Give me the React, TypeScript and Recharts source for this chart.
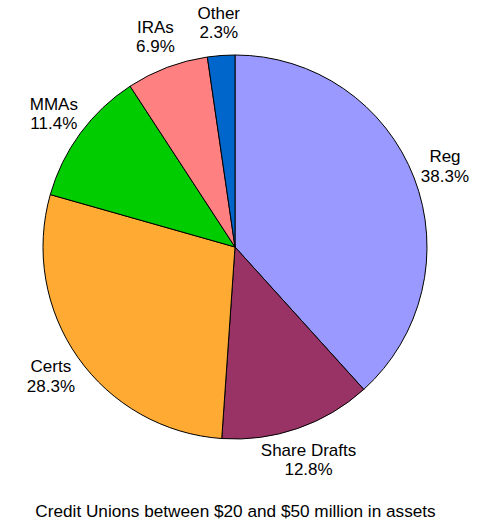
import { Cell, Pie, PieChart } from "recharts"

const categories = ["Reg", "Share Drafts", "Certs", "MMAs", "IRAs", "Other"]
const shares = [38.3, 12.8, 28.3, 11.4, 6.9, 2.3]
const colors = ["#9999FF", "#993366", "#FFAA33", "#00CC00", "#FF8080", "#0066CC"]
const title = "Credit Unions between $20 and $50 million in assets"

const data = categories.map((name, i) => ({ name, value: shares[i] }))

const RADIAN = Math.PI / 180
const FONT = "'Liberation Sans', Arial, sans-serif"

function renderLabel(props: any) {
  const { cx, cy, midAngle, outerRadius, name, value } = props
  const r = outerRadius + 33
  const x = cx + r * Math.cos(-midAngle * RADIAN)
  const y = cy + r * Math.sin(-midAngle * RADIAN)
  return (
    <text x={x} y={y} textAnchor="middle" fontFamily={FONT} fontSize={17} fill="#000">
      <tspan x={x} dy={-4}>{name}</tspan>
      <tspan x={x} dy={19.5}>{`${value.toFixed(1)}%`}</tspan>
    </text>
  )
}

export default function App() {
  return (
    <div style={{ position: "absolute", left: 0, top: 0, width: 485, height: 532, background: "#fff" }}>
      <PieChart width={485} height={532} margin={{ top: 0, right: 0, bottom: 0, left: 0 }}>
        <Pie
          data={data}
          dataKey="value"
          nameKey="name"
          cx={235}
          cy={247}
          outerRadius={192}
          startAngle={90}
          endAngle={-270}
          stroke="#000"
          strokeWidth={1}
          label={renderLabel}
          labelLine={false}
          isAnimationActive={false}
        >
          {data.map((d, i) => (
            <Cell key={d.name} fill={colors[i]} />
          ))}
        </Pie>
      </PieChart>
      <div
        style={{
          position: "absolute",
          left: 0,
          width: 471,
          top: 501,
          textAlign: "center",
          fontFamily: FONT,
          fontSize: 17.2,
          color: "#000",
        }}
      >
        {title}
      </div>
    </div>
  )
}
